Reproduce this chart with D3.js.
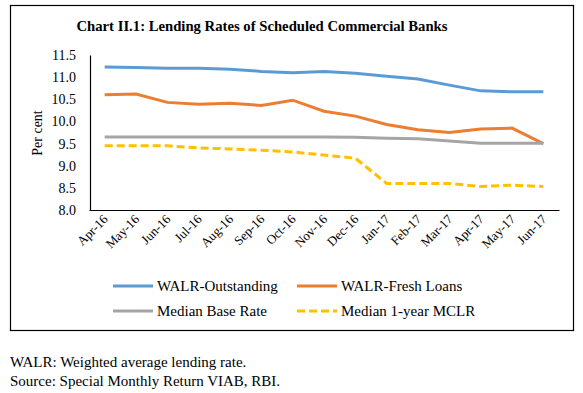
<!DOCTYPE html>
<html><head><meta charset="utf-8">
<script src="https://cdn.jsdelivr.net/npm/d3@7"></script>
<style>body{margin:0;background:#fff}svg{display:block}text{font-family:"Liberation Serif","Times New Roman",serif}</style>
</head><body>
<svg id="c" width="583" height="393"></svg>
<script>
const months = ["Apr-16","May-16","Jun-16","Jul-16","Aug-16","Sep-16","Oct-16","Nov-16","Dec-16","Jan-17","Feb-17","Mar-17","Apr-17","May-17","Jun-17"];
const walrOutstanding = [11.23,11.22,11.20,11.20,11.18,11.13,11.10,11.13,11.09,11.02,10.96,10.82,10.69,10.67,10.67];
const walrFresh = [10.60,10.62,10.43,10.39,10.41,10.36,10.48,10.23,10.12,9.93,9.81,9.75,9.83,9.85,9.50];
const medianBase = [9.65,9.65,9.65,9.65,9.65,9.65,9.65,9.65,9.64,9.62,9.61,9.56,9.51,9.51,9.51];
const medianMCLR = [9.45,9.45,9.45,9.40,9.38,9.35,9.31,9.24,9.17,8.60,8.60,8.60,8.53,8.56,8.53];
const yTicks = [8.0,8.5,9.0,9.5,10.0,10.5,11.0,11.5];
const series = [
  {name:"WALR-Outstanding", values:walrOutstanding, color:"#5B9BD5", dash:null},
  {name:"WALR-Fresh Loans", values:walrFresh, color:"#ED7D31", dash:null},
  {name:"Median Base Rate", values:medianBase, color:"#A5A5A5", dash:null},
  {name:"Median 1-year MCLR", values:medianMCLR, color:"#FFC000", dash:"8,4"}
];

const svg = d3.select("#c");
svg.append("rect").attr("x",10.5).attr("y",5.5).attr("width",563).attr("height",325)
  .attr("fill","none").attr("stroke","#000").attr("stroke-width",1.2);

svg.append("text").attr("x",262).attr("y",31).attr("text-anchor","middle")
  .attr("font-size",14.7).attr("font-weight","bold").text("Chart II.1: Lending Rates of Scheduled Commercial Banks");

const x = d3.scaleBand().domain(months).range([89,559]);
const y = d3.scaleLinear().domain([8,11.5]).range([210,55]);

const yAxis = svg.append("g").attr("transform","translate(90,0)")
  .call(d3.axisLeft(y).tickValues(yTicks).tickFormat(d3.format(".1f")).tickSize(0).tickPadding(14));
yAxis.select(".domain").attr("stroke","#000").attr("stroke-width",1.2);
yAxis.selectAll("text").attr("font-size",14).attr("fill","#000");

const xAxis = svg.append("g").attr("transform","translate(0,210)")
  .call(d3.axisBottom(x).tickSize(0).tickSizeOuter(0).tickPadding(0));
xAxis.select(".domain").attr("stroke","#000").attr("stroke-width",1.2);
xAxis.selectAll("text").attr("font-size",13).attr("fill","#000")
  .attr("text-anchor","end").attr("dy",null).attr("transform","translate(4,10) rotate(-45)");

svg.append("text").attr("transform","translate(42,133) rotate(-90)").attr("text-anchor","middle")
  .attr("font-size",14).text("Per cent");

const line = d3.line().x((d,i)=>x(months[i])+x.bandwidth()/2).y(d=>y(d));
series.forEach(s=>{
  svg.append("path").datum(s.values).attr("d",line).attr("fill","none")
    .attr("stroke",s.color).attr("stroke-width",3).attr("stroke-dasharray",s.dash);
});

const legPos = [[113,286],[297,286],[113,311],[297,311]];
series.forEach((s,i)=>{
  const [lx,ly] = legPos[i];
  svg.append("line").attr("x1",lx).attr("x2",lx+40).attr("y1",ly).attr("y2",ly)
    .attr("stroke",s.color).attr("stroke-width",3).attr("stroke-dasharray",s.dash);
  svg.append("text").attr("x",lx+44).attr("y",ly+5).attr("font-size",15).text(s.name);
});

svg.append("text").attr("x",10).attr("y",367).attr("font-size",15).text("WALR: Weighted average lending rate.");
svg.append("text").attr("x",10).attr("y",386).attr("font-size",15).text("Source: Special Monthly Return VIAB, RBI.");
</script>
</body></html>
